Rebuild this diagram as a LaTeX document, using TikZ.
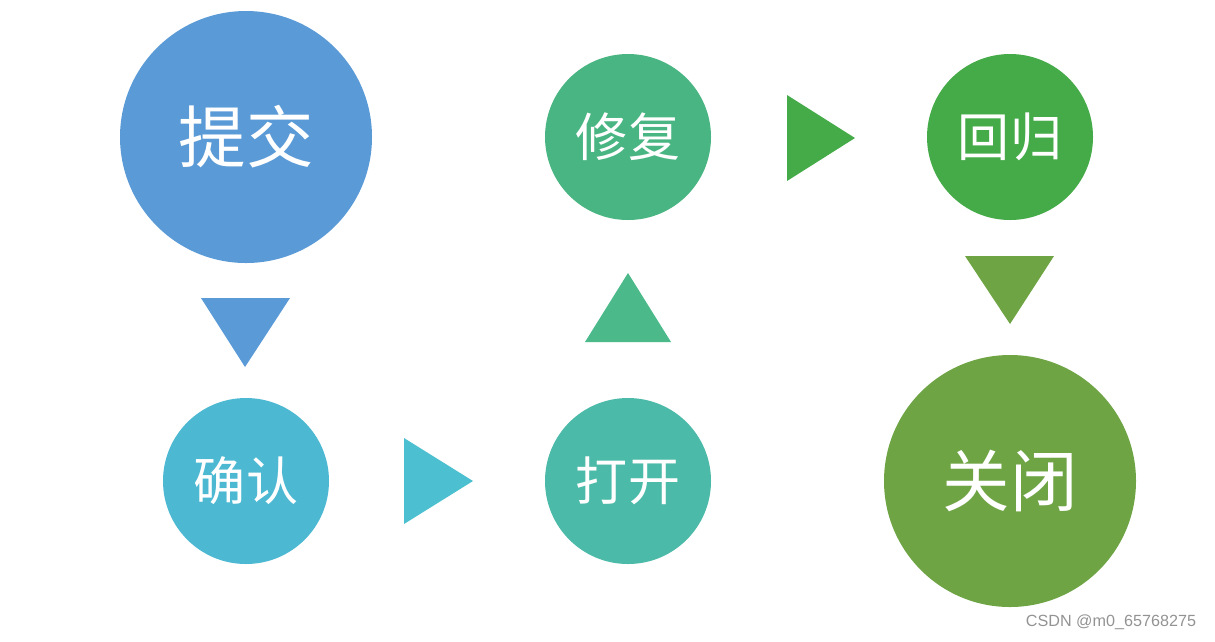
\documentclass[tikz,border=0pt]{standalone}
\usepackage{fontspec}
\newfontfamily\cjk{Noto Sans CJK SC}
\setsansfont{Liberation Sans}
\usetikzlibrary{positioning}

\definecolor{cBlue}{HTML}{5A9AD6}
\definecolor{cCyan}{HTML}{4CB8D2}
\definecolor{cTeal}{HTML}{4BBAA8}
\definecolor{cMint}{HTML}{49B582}
\definecolor{cGreen}{HTML}{44AB48}
\definecolor{cOlive}{HTML}{6EA444}
\definecolor{cTriCyan}{HTML}{4CC0D0}
\definecolor{cTriMint}{HTML}{4BB98A}

\tikzset{
    stage/.style={circle, minimum size=166*0.025cm, inner sep=0pt, text=white, font=\cjk\fontsize{37}{40}\selectfont},
    bigstage/.style={stage, minimum size=252*0.025cm, font=\cjk\fontsize{48}{52}\selectfont}
}

\begin{document}
\begin{tikzpicture}[x=0.025cm, y=-0.025cm]

        % Frame of the picture
        \useasboundingbox (0,0) rectangle (1215,641);

        % Stages
        \node[bigstage, fill=cBlue] (submit) at (246,137) {提交};
        \node[stage, fill=cCyan] (confirm) at (246,481) {确认};
        \node[stage, fill=cTeal] (open) at (628,481) {打开};
        \node[stage, fill=cMint] (fix) at (628,137) {修复};
        \node[stage, fill=cGreen] (regress) at (1010,137) {回归};
        \node[bigstage, fill=cOlive] (close) at (1010,481) {关闭};

        % Triangles between the stages
        % submit -> confirm
        \fill[cBlue] (201,298) -- (290,298) -- (245,367) -- cycle;

        % confirm -> open
        \fill[cTriCyan] (404,438) -- (404,524) -- (473,481) -- cycle;

        % open -> fix
        \fill[cTriMint] (585,342) -- (671,342) -- (628,273) -- cycle;

        % fix -> regress
        \fill[cGreen] (787,95) -- (787,181) -- (855,138) -- cycle;

        % regress -> close
        \fill[cOlive] (965,256) -- (1054,256) -- (1010,324) -- cycle;

        % Watermark
        \node[anchor=east, text=gray!85, font=\sffamily\fontsize{11.5}{13}\selectfont] (mark) at (1201,622) {CSDN @m0\_65768275};

    \end{tikzpicture}
\end{document}
